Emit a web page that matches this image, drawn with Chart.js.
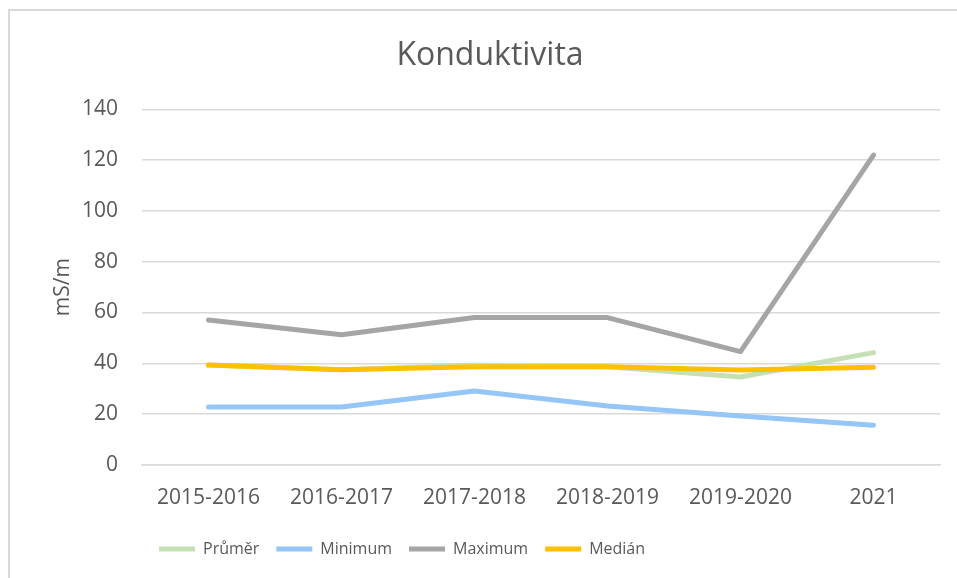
<!DOCTYPE html>
<html>
<head>
<meta charset="utf-8">
<script src="https://cdn.jsdelivr.net/npm/chart.js@4"></script>
<style>
  body { margin: 0; background: #fff; }
  .frame { position: absolute; left: 8px; top: 9px; width: 1000px; height: 700px;
           border-left: 2px solid #d9d9d9; border-top: 2px solid #d9d9d9; }
  .wrap { position: absolute; left: 0; top: 0; width: 957px; height: 578px; }
</style>
</head>
<body>
<div class="frame"></div>
<div class="wrap"><canvas id="konduktivitaChart" width="957" height="578"></canvas></div>
<script>
// Data
const categories = ['2015-2016', '2016-2017', '2017-2018', '2018-2019', '2019-2020', '2021'];
const prumer = [39.3, 37.4, 39.2, 38.6, 34.6, 44.2];
const minimum = [22.8, 22.8, 29.1, 23.2, 19.2, 15.6];
const maximum = [57.0, 51.2, 58.0, 58.0, 44.6, 122.0];
const median = [39.3, 37.4, 38.6, 38.6, 37.3, 38.4];
const yTicks = [0, 20, 40, 60, 80, 100, 120, 140];

const textColor = '#595959';
const gridColor = '#d9d9d9';
const fontFamily = '"Open Sans", "Noto Sans", sans-serif';

// order: lower value is drawn on top (Medián last, like the reference)
function lineSet(label, data, color, order) {
    return {
        label: label,
        data: data,
        borderColor: color,
        backgroundColor: color,
        borderWidth: 5,
        borderCapStyle: 'round',
        borderJoinStyle: 'round',
        pointRadius: 0,
        tension: 0,
        fill: false,
        order: order
    };
}

const ctx = document.getElementById('konduktivitaChart').getContext('2d');
const chart = new Chart(ctx, {
    type: 'line',
    data: {
        labels: categories,
        datasets: [
            lineSet('Průměr', prumer, '#c5e0b4', 4),
            lineSet('Minimum', minimum, '#94c6f7', 3),
            lineSet('Maximum', maximum, '#a5a5a5', 2),
            lineSet('Medián', median, '#ffc000', 1)
        ]
    },
    options: {
        responsive: false,
        animation: false,
        layout: {
            padding: { left: 40, right: 17, top: 0, bottom: 11 }
        },
        plugins: {
            title: {
                display: true,
                text: 'Konduktivita',
                color: textColor,
                font: { family: fontFamily, size: 32, weight: 'normal' },
                padding: { top: 37, bottom: 34 }
            },
            legend: {
                position: 'bottom',
                align: 'start',
                fullSize: false,
                labels: {
                    color: textColor,
                    font: { family: fontFamily, size: 16 },
                    usePointStyle: true,
                    pointStyle: 'line',
                    pointStyleWidth: 36,
                    padding: 17,
                    sort: (a, b) => a.datasetIndex - b.datasetIndex
                }
            },
            tooltip: { enabled: false }
        },
        scales: {
            x: {
                offset: true,
                grid: { display: false },
                border: { display: true, color: gridColor, width: 1.5 },
                ticks: {
                    color: textColor,
                    font: { family: fontFamily, size: 21 },
                    padding: 13,
                    maxRotation: 0
                }
            },
            y: {
                min: 0,
                max: 140,
                afterBuildTicks: scale => {
                    scale.ticks = yTicks.map(v => ({ value: v }));
                },
                afterFit: scale => {
                    scale.width = 102;
                },
                grid: { color: gridColor, lineWidth: 1.5, drawTicks: false },
                border: { display: false },
                ticks: {
                    color: textColor,
                    font: { family: fontFamily, size: 21 },
                    padding: 24
                },
                title: {
                    display: true,
                    text: 'mS/m',
                    color: textColor,
                    font: { family: fontFamily, size: 21 },
                    padding: { top: 10, bottom: 0 }
                }
            }
        }
    }
});
</script>
</body>
</html>
